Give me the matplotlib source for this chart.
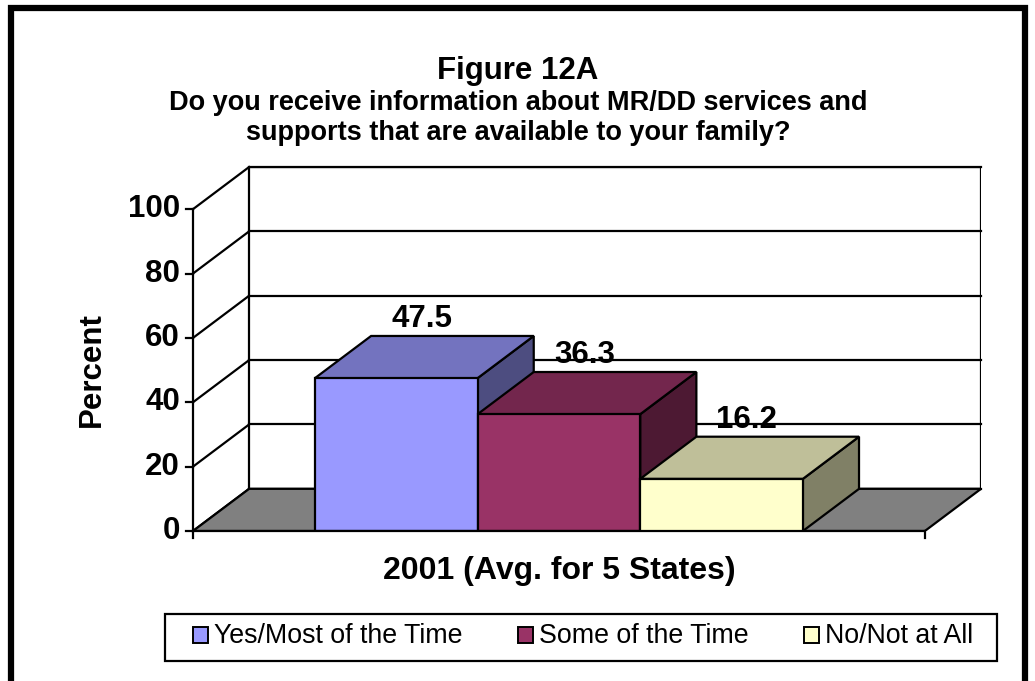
import matplotlib.pyplot as plt
from matplotlib.patches import Polygon, Rectangle

plt.rcParams['font.family'] = ['Liberation Sans', 'DejaVu Sans']

# data
categories = ['Yes/Most of the Time', 'Some of the Time', 'No/Not at All']
values = [47.5, 36.3, 16.2]
yticks = [0, 20, 40, 60, 80, 100]

# colours: front, top, side
front_cols = ['#9999FF', '#993366', '#FFFFCC']
top_cols = ['#7373BF', '#73264D', '#BFBF99']
side_cols = ['#4D4D80', '#4D1933', '#808066']

W, H = 1035, 681
fig = plt.figure(figsize=(W / 100, H / 100), dpi=100)

# 3d depth offset in data units
dx = 0.345
dy = 13.1
xmax = 4.5
gap = 0.75

# axes placed in pixel box (left 193, right 981, bottom 531, top 167)
ax = fig.add_axes([193 / W, 1 - 531 / H, (981 - 193) / W, (531 - 167) / H])
ax.set_xlim(0, xmax + dx)
ax.set_ylim(0, 100 + dy)
ax.axis('off')

lw = 1.6

# back wall
ax.add_patch(Polygon([(dx, dy), (xmax + dx, dy), (xmax + dx, 100 + dy), (dx, 100 + dy)],
                     closed=True, facecolor='white', edgecolor='black', lw=lw, zorder=1))
# floor
ax.add_patch(Polygon([(0, 0), (xmax, 0), (xmax + dx, dy), (dx, dy)],
                     closed=True, facecolor='#808080', edgecolor='black', lw=lw, zorder=2))

# grid lines on back wall and left wall
for t in yticks:
    ax.plot([dx, xmax + dx], [t + dy, t + dy], color='black', lw=lw, zorder=1.5, clip_on=False)
    ax.plot([0, dx], [t, t + dy], color='black', lw=lw, zorder=1.5, clip_on=False)
    # tick mark
    ax.plot([-0.043, 0], [t, t], color='black', lw=lw, zorder=3, clip_on=False)
    ax.text(-0.08, t, str(t), ha='right', va='center', fontsize=22.5, fontweight='bold')

# front axes lines
ax.plot([0, 0], [0, 100], color='black', lw=lw, zorder=3, clip_on=False)
ax.plot([0, xmax], [0, 0], color='black', lw=lw, zorder=6, clip_on=False)
for xt in [0, xmax]:
    ax.plot([xt, xt], [0, -2.2], color='black', lw=lw, zorder=6, clip_on=False)

# bars
for i, v in enumerate(values):
    x0 = gap + i
    x1 = x0 + 1
    front = [(x0, 0), (x1, 0), (x1, v), (x0, v)]
    top = [(x0, v), (x1, v), (x1 + dx, v + dy), (x0 + dx, v + dy)]
    side = [(x1, 0), (x1 + dx, dy), (x1 + dx, v + dy), (x1, v)]
    z = 4 + i
    ax.add_patch(Polygon(side, closed=True, facecolor=side_cols[i], edgecolor='black', lw=lw, zorder=z))
    ax.add_patch(Polygon(top, closed=True, facecolor=top_cols[i], edgecolor='black', lw=lw, zorder=z))
    ax.add_patch(Polygon(front, closed=True, facecolor=front_cols[i], edgecolor='black', lw=lw, zorder=z))
    ax.annotate(f'{v}', xy=(x0 + 0.5 + dx / 2, v + dy), xytext=(-2, 12), textcoords='offset points',
                ha='center', va='center', fontsize=22.5, fontweight='bold', zorder=10)

# axis labels
ax.text(xmax / 2, -12.5, '2001 (Avg. for 5 States)', ha='center', va='center',
        fontsize=23, fontweight='bold')
fig.text(92 / W, 1 - 370 / H, 'Percent', rotation=90, ha='center', va='center',
         fontsize=22.5, fontweight='bold')

# titles
fig.text(518 / W, 1 - 71 / H, 'Figure 12A', ha='center', va='center', fontsize=22.5, fontweight='bold')
fig.text(518 / W, 1 - 103 / H, 'Do you receive information about MR/DD services and',
         ha='center', va='center', fontsize=19.5, fontweight='bold')
fig.text(518 / W, 1 - 133 / H, 'supports that are available to your family?',
         ha='center', va='center', fontsize=19.5, fontweight='bold')

# legend (drawn by hand to match the boxed layout)
fig.patches.append(Rectangle((165 / W, 1 - 661 / H), 832 / W, 47 / H, transform=fig.transFigure,
                             facecolor='white', edgecolor='black', lw=lw))
leg_x = [193, 518, 804]
for i, lab in enumerate(categories):
    fig.patches.append(Rectangle((leg_x[i] / W, 1 - 643 / H), 15 / W, 16 / H, transform=fig.transFigure,
                                 facecolor=front_cols[i], edgecolor='black', lw=1.4))
    fig.text((leg_x[i] + 21) / W, 1 - 636 / H, lab, ha='left', va='center', fontsize=19.3)

# outer frame
fig.patches.append(Rectangle((11 / W, -0.1), 1014 / W, 1.1 - 8 / H, transform=fig.transFigure,
                             facecolor='none', edgecolor='black', lw=4.5))

plt.savefig('out.png', dpi=100)
